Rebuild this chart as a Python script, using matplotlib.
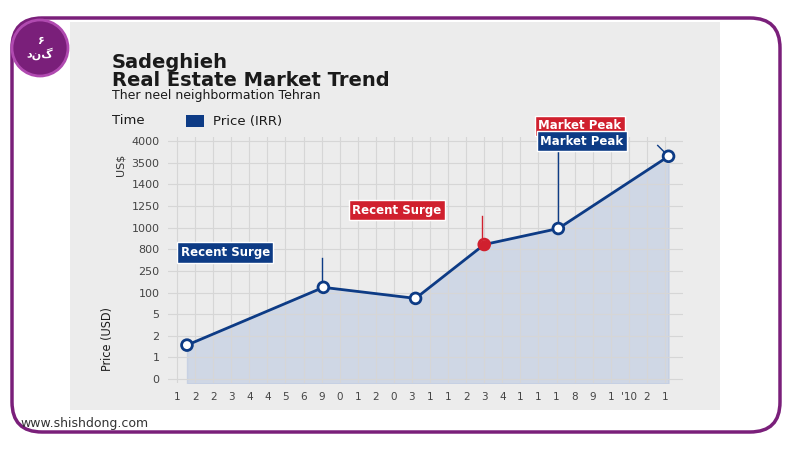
import matplotlib
matplotlib.use("Agg")
import matplotlib.pyplot as plt
from matplotlib.patches import FancyBboxPatch, Circle
import numpy as np

y_labels = ["0", "1", "2", "5", "100", "250", "800", "1000", "1250", "1400", "3500", "4000"]
x_labels = ["1","2","2","3","4","4","5","6","9","0","1","2","0","3","1","1","2","3","4","1","1","1","8","9","1","'10","2","1"]
pt_x = [0.55, 8.1, 13.2, 17.0, 21.1, 27.2]
pt_y = [1.57, 4.24, 3.73, 6.22, 6.96, 10.3]
pt_colors = ["#0d3b85", "#0d3b85", "#0d3b85", "#d0202e", "#0d3b85", "#0d3b85"]
NAVY = "#0d3b85"; RED = "#d0202e"

fig = plt.figure(figsize=(8, 4.5), dpi=100)
fig.patch.set_facecolor("white")
bg = fig.add_axes([0, 0, 1, 1]); bg.set_xlim(0, 800); bg.set_ylim(450, 0); bg.axis("off")
bg.add_patch(FancyBboxPatch((12, 18), 768, 414, boxstyle="round,pad=0,rounding_size=30",
                            fc="white", ec="#7a1f7a", lw=2.5))
bg.add_patch(FancyBboxPatch((70, 22), 650, 388, boxstyle="square,pad=0", fc="#ececec", ec="none"))
bg.add_patch(Circle((40, 48), 28, fc="#7a1f7a", ec="#b04ab0", lw=2))
bg.text(40, 48, "۶\nدنگ", color="white", ha="center", va="center", fontsize=8, fontweight="bold", family="DejaVu Sans")
bg.text(20, 424, "www.shishdong.com", fontsize=9, color="#333333", va="center")
bg.text(112, 62, "Sadeghieh", fontsize=14, fontweight="heavy", color="#1a1a1a", va="center")
bg.text(112, 80, "Real Estate Market Trend", fontsize=14, fontweight="heavy", color="#1a1a1a", va="center")
bg.text(112, 96, "Ther neel neighbormation Tehran", fontsize=9, color="#1a1a1a", va="center")
bg.text(112, 121, "Time", fontsize=9.5, color="#1a1a1a", va="center")
bg.add_patch(FancyBboxPatch((186, 115), 18, 12, boxstyle="square,pad=0", fc=NAVY, ec="none"))
bg.text(213, 121, "Price (IRR)", fontsize=9.5, color="#1a1a1a", va="center")
bg.text(121, 165, "US$", fontsize=8, color="#333333", rotation=90, ha="center", va="center")

ax = fig.add_axes([168/800, 0.148, 515/800, 0.548])
ax.set_facecolor("#ececec")
ax.set_xlim(-0.5, 28)
ax.set_ylim(-0.2, len(y_labels) - 0.8)
ax.set_xticks(range(len(x_labels))); ax.set_xticklabels(x_labels, fontsize=7.5, color="#444444")
ax.set_yticks(range(len(y_labels))); ax.set_yticklabels(y_labels, fontsize=8, color="#444444")
ax.tick_params(length=0, pad=6)
ax.grid(True, color="#d6d6d6", lw=0.8)
for s in ax.spines.values(): s.set_visible(False)
ax.set_ylabel("Price (USD)", fontsize=9, color="#1a1a1a", labelpad=10, fontstretch="condensed")
ax.yaxis.set_label_coords(-0.105, 0.18)
ax.fill_between(pt_x, pt_y, -0.2, color="#b8c6e0", alpha=0.55, zorder=1)
ax.plot(pt_x, pt_y, color=NAVY, lw=2, zorder=3)
ax.scatter(pt_x, pt_y, s=60, facecolor="white", edgecolor=pt_colors, linewidth=2, zorder=4)
ax.scatter([pt_x[3]], [pt_y[3]], s=45, color=RED, zorder=5)

def label(x, y, text, c):
    ax.text(x, y, text, fontsize=8.5, fontweight="bold", color="white", va="center", ha="left", zorder=6,
            bbox=dict(boxstyle="square,pad=0.3", fc=c, ec="white", lw=1))

label(0.2, 5.85, "Recent Surge", NAVY)
ax.plot([8.0, 8.0], [5.6, pt_y[1]], color=NAVY, lw=1, zorder=2)
label(9.7, 7.8, "Recent Surge", RED)
ax.plot([16.9, 16.9], [7.55, pt_y[3]], color=RED, lw=1, zorder=2)
label(20.0, 11.7, "Market Peak", RED)
label(20.1, 11.0, "Market Peak", NAVY)
ax.plot([21.1, 21.1], [10.8, pt_y[4]], color=NAVY, lw=1, zorder=2)
ax.plot([26.6, pt_x[5]], [10.8, pt_y[5]], color=NAVY, lw=1, zorder=2)

fig.savefig("out.png", dpi=100, facecolor="white")
